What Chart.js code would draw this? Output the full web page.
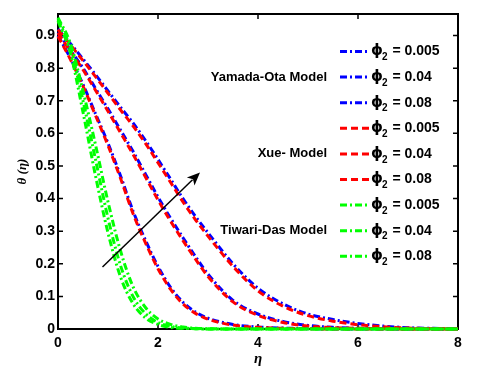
<!DOCTYPE html>
<html>
<head>
<meta charset="utf-8">
<script src="https://cdn.jsdelivr.net/npm/chart.js@4/dist/chart.umd.min.js"></script>
<style>
  html, body { margin: 0; padding: 0; background: #fff; }
  #wrap { width: 493px; height: 377px; }
</style>
</head>
<body>
<div id="wrap"><canvas id="chart" width="493" height="377"></canvas></div>
<script>
// data
var eta = [0, 0.25, 0.5, 0.75, 1, 1.25, 1.5, 1.75, 2, 2.25, 2.5, 2.75, 3, 3.5, 4, 4.5, 5, 5.5, 6, 6.5, 7, 7.5, 8];

var yamada005 = [0.900, 0.830, 0.750, 0.660, 0.570, 0.470, 0.362, 0.272, 0.192, 0.128, 0.082, 0.052, 0.033, 0.014, 0.006, 0.003, 0.001, 0, 0, 0, 0, 0, 0];
var yamada04  = [0.910, 0.855, 0.800, 0.738, 0.675, 0.610, 0.545, 0.475, 0.405, 0.340, 0.280, 0.222, 0.168, 0.088, 0.046, 0.023, 0.011, 0.005, 0.002, 0.001, 0, 0, 0];
var yamada08  = [0.920, 0.875, 0.828, 0.780, 0.730, 0.680, 0.632, 0.578, 0.520, 0.460, 0.400, 0.345, 0.295, 0.200, 0.125, 0.077, 0.046, 0.029, 0.017, 0.009, 0.004, 0.002, 0.001];

var xue005 = [0.898, 0.826, 0.745, 0.655, 0.563, 0.462, 0.354, 0.264, 0.185, 0.122, 0.077, 0.048, 0.030, 0.012, 0.005, 0.002, 0.001, 0, 0, 0, 0, 0, 0];
var xue04  = [0.908, 0.851, 0.795, 0.732, 0.668, 0.602, 0.536, 0.466, 0.396, 0.331, 0.271, 0.214, 0.161, 0.083, 0.042, 0.020, 0.009, 0.004, 0.002, 0.001, 0, 0, 0];
var xue08  = [0.918, 0.871, 0.823, 0.774, 0.723, 0.672, 0.623, 0.569, 0.510, 0.450, 0.390, 0.335, 0.285, 0.192, 0.117, 0.070, 0.041, 0.024, 0.013, 0.007, 0.003, 0.001, 0];

var tiwari005 = [0.945, 0.845, 0.665, 0.470, 0.295, 0.160, 0.078, 0.034, 0.014, 0.005, 0.002, 0.001, 0, 0, 0, 0, 0, 0, 0, 0, 0, 0, 0];
var tiwari04  = [0.950, 0.860, 0.700, 0.520, 0.340, 0.195, 0.100, 0.047, 0.020, 0.008, 0.003, 0.001, 0, 0, 0, 0, 0, 0, 0, 0, 0, 0, 0];
var tiwari08  = [0.955, 0.875, 0.730, 0.565, 0.390, 0.240, 0.130, 0.066, 0.031, 0.014, 0.006, 0.002, 0.001, 0, 0, 0, 0, 0, 0, 0, 0, 0, 0];

var phiLabels = ['0.005', '0.04', '0.08'];
var modelNames = ['Yamada-Ota Model', 'Xue- Model', 'Tiwari-Das Model'];
var xTicks = [0, 2, 4, 6, 8];
var yTicks = [0, 0.1, 0.2, 0.3, 0.4, 0.5, 0.6, 0.7, 0.8, 0.9];
var arrowFrom = [0.89, 0.19];
var arrowTo = [2.84, 0.48];

var MODEL_STYLE = [
  { color: '#0000ff', dash: [7, 3, 2, 3], width: 3, order: 2 },
  { color: '#ff0000', dash: [7, 4], width: 3, order: 1 },
  { color: '#00ff00', dash: [7, 3, 2, 3], width: 3, order: 0 }
];
var FONT = 'Liberation Sans, Arial, sans-serif';

var seriesByModel = [
  [yamada005, yamada04, yamada08],
  [xue005, xue04, xue08],
  [tiwari005, tiwari04, tiwari08]
];

function makeDatasets() {
  var out = [];
  seriesByModel.forEach(function (list, m) {
    var st = MODEL_STYLE[m];
    list.forEach(function (vals, p) {
      out.push({
        label: modelNames[m] + ' ' + phiLabels[p],
        data: vals.map(function (v, i) { return { x: eta[i], y: v }; }),
        borderColor: st.color,
        borderDash: st.dash,
        borderWidth: st.width,
        pointRadius: 0,
        fill: false,
        cubicInterpolationMode: 'monotone',
        order: st.order,
        clip: false
      });
    });
  });
  return out;
}

// frame with inward ticks on all four sides
var framePlugin = {
  id: 'frame',
  beforeDatasetsDraw: function (chart) {
    var ctx = chart.ctx, a = chart.chartArea;
    var xs = chart.scales.x, ys = chart.scales.y;
    ctx.save();
    ctx.strokeStyle = '#000';
    ctx.lineWidth = 2;
    ctx.strokeRect(a.left, a.top, a.right - a.left, a.bottom - a.top);
    ctx.lineWidth = 1.5;
    ctx.beginPath();
    xTicks.forEach(function (v) {
      var px = xs.getPixelForValue(v);
      ctx.moveTo(px, a.bottom); ctx.lineTo(px, a.bottom - 5);
      ctx.moveTo(px, a.top); ctx.lineTo(px, a.top + 5);
    });
    yTicks.forEach(function (v) {
      var py = ys.getPixelForValue(v);
      ctx.moveTo(a.left, py); ctx.lineTo(a.left + 5, py);
      ctx.moveTo(a.right, py); ctx.lineTo(a.right - 5, py);
    });
    ctx.stroke();
    ctx.restore();
  }
};

var arrowPlugin = {
  id: 'arrow',
  afterDatasetsDraw: function (chart) {
    var ctx = chart.ctx, xs = chart.scales.x, ys = chart.scales.y;
    var x1 = xs.getPixelForValue(arrowFrom[0]), y1 = ys.getPixelForValue(arrowFrom[1]);
    var x2 = xs.getPixelForValue(arrowTo[0]), y2 = ys.getPixelForValue(arrowTo[1]);
    var ang = Math.atan2(y2 - y1, x2 - x1);
    var len = 13, hw = 5.5;
    ctx.save();
    ctx.strokeStyle = '#000';
    ctx.fillStyle = '#000';
    ctx.lineWidth = 1.5;
    ctx.beginPath();
    ctx.moveTo(x1, y1);
    ctx.lineTo(x2 - Math.cos(ang) * len * 0.8, y2 - Math.sin(ang) * len * 0.8);
    ctx.stroke();
    ctx.beginPath();
    ctx.moveTo(x2, y2);
    ctx.lineTo(x2 - Math.cos(ang) * len - Math.sin(ang) * hw, y2 - Math.sin(ang) * len + Math.cos(ang) * hw);
    ctx.lineTo(x2 - Math.cos(ang) * len * 0.75, y2 - Math.sin(ang) * len * 0.75);
    ctx.lineTo(x2 - Math.cos(ang) * len + Math.sin(ang) * hw, y2 - Math.sin(ang) * len - Math.cos(ang) * hw);
    ctx.closePath();
    ctx.fill();
    ctx.restore();
  }
};

var legendPlugin = {
  id: 'sideLegend',
  afterDraw: function (chart) {
    var ctx = chart.ctx;
    var top = 51.5, step = 25.6;
    var lx1 = 340, lx2 = 369, tx = 371;
    ctx.save();
    ctx.textBaseline = 'middle';
    for (var m = 0; m < 3; m++) {
      var st = MODEL_STYLE[m];
      for (var p = 0; p < 3; p++) {
        var y = top + (m * 3 + p) * step;
        ctx.strokeStyle = st.color;
        ctx.lineWidth = st.width;
        ctx.setLineDash(st.dash);
        ctx.beginPath();
        ctx.moveTo(lx1, y); ctx.lineTo(lx2, y);
        ctx.stroke();
        ctx.setLineDash([]);
        ctx.fillStyle = '#000';
        ctx.textAlign = 'left';
        ctx.font = 'bold 15px DejaVu Sans, sans-serif';
        ctx.fillText('\u03d5', tx, y);
        var w = ctx.measureText('\u03d5').width;
        ctx.font = 'bold 10px ' + FONT;
        ctx.fillText('2', tx + w - 1, y + 6);
        var w2 = ctx.measureText('2').width;
        ctx.font = 'bold 14px ' + FONT;
        ctx.fillText(' = ' + phiLabels[p], tx + w + w2, y);
      }
      ctx.font = 'bold 13px ' + FONT;
      ctx.textAlign = 'right';
      ctx.fillStyle = '#000';
      ctx.fillText(modelNames[m], 327, top + (m * 3 + 1) * step);
    }
    ctx.restore();
  }
};

new Chart(document.getElementById('chart'), {
  type: 'line',
  data: { datasets: makeDatasets() },
  options: {
    responsive: false,
    animation: false,
    devicePixelRatio: 1,
    layout: { padding: { top: 14, right: 35, left: 0, bottom: 0 } },
    plugins: { legend: { display: false }, tooltip: { enabled: false } },
    scales: {
      x: {
        type: 'linear', min: 0, max: 8,
        afterBuildTicks: function (s) { s.ticks = xTicks.map(function (v) { return { value: v }; }); },
        afterFit: function (s) { s.height = 48; },
        grid: { display: false, drawTicks: false },
        border: { display: false },
        ticks: { color: '#000', padding: 6, maxRotation: 0, font: { family: FONT, size: 14, weight: 'bold' } },
        title: { display: true, text: '\u03b7', color: '#000', padding: { top: 0, bottom: 9 },
          font: { family: 'Liberation Serif, serif', size: 15, style: 'italic', weight: 'bold' } }
      },
      y: {
        type: 'linear', min: 0, max: 0.966,
        afterBuildTicks: function (s) { s.ticks = yTicks.map(function (v) { return { value: v }; }); },
        afterFit: function (s) { s.width = 58; },
        grid: { display: false, drawTicks: false },
        border: { display: false },
        ticks: { color: '#000', padding: 3, font: { family: FONT, size: 14, weight: 'bold' },
          callback: function (v) { return v === 0 ? '0' : v.toFixed(1); } },
        title: { display: true, text: '\u03b8 (\u03b7)', color: '#000', padding: { top: 15, bottom: 0 },
          font: { family: 'Liberation Serif, serif', size: 13, style: 'italic', weight: 'bold' } }
      }
    }
  },
  plugins: [framePlugin, arrowPlugin, legendPlugin]
});
</script>
</body>
</html>
